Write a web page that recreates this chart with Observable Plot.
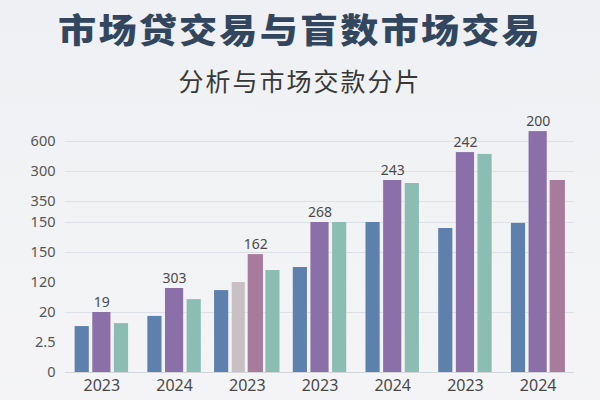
<!DOCTYPE html>
<html>
<head>
<meta charset="utf-8">
<script src="https://cdn.jsdelivr.net/npm/d3@7"></script>
<script src="https://cdn.jsdelivr.net/npm/@observablehq/plot@0.6"></script>
<style>
  html, body { margin: 0; padding: 0; }
  body { width: 600px; height: 400px; overflow: hidden;
         background: linear-gradient(180deg, #eef0f3 0%, #f2f3f5 60%, #f4f4f6 100%);
         font-family: "Noto Sans CJK SC", "Noto Sans", sans-serif; }
  #wrap { position: relative; width: 600px; height: 400px; }
  #title { position: absolute; left: 0; width: 600px; top: 10px; text-align: center;
           font-size: 34px; line-height: 38px; font-weight: 900; color: #32475f;
           letter-spacing: 2px; transform: scaleX(1.12); transform-origin: 50% 50%; }
  #subtitle { position: absolute; left: 0; width: 600px; top: 65px; text-align: center;
              font-size: 25px; line-height: 30px; font-weight: 400; color: #383838;
              letter-spacing: 2px; }
  #chart { position: absolute; left: 0; top: 110px; }
  #chart svg { overflow: visible; background: transparent; }
</style>
</head>
<body>
<div id="wrap">
  <div id="title">市场贷交易与盲数市场交易</div>
  <div id="subtitle">分析与市场交款分片</div>
  <div id="chart"></div>
</div>
<script>
// ---- data ----
const years = ["2023", "2024", "2023", "2023", "2024", "2023", "2024"];
const yTickValues = [0, 1, 2, 3, 4, 5, 5.7, 6.7, 7.7];
const yTickLabels = ["0", "2.5", "20", "120", "150", "150", "350", "300", "600"];
const gridValues = [2, 4, 5, 5.7, 6.7, 7.7];

const blueValues   = [1.53, 1.87, 2.73, 3.5, 5.0, 4.8, 4.97];
const purpleValues = [2.0, 2.8, null, 5.0, 6.4, 7.33, 8.03];
const grayValues   = [null, null, 3.0, null, null, null, null];
const pinkValues   = [null, null, 3.93, null, null, null, 6.4];
const tealValues   = [1.63, 2.43, 3.4, 5.0, 6.3, 7.27, null];

const barLabels = ["19", "303", "162", "268", "243", "242", "200"];
const labelSeries = ["purple", "purple", "pink", "purple", "purple", "purple", "purple"];

// ---- styles ----
const seriesOrder = ["blue", "purple", "gray", "pink", "teal"];
const seriesValues = {blue: blueValues, purple: purpleValues, gray: grayValues, pink: pinkValues, teal: tealValues};
const colors = {blue: "#5e80ad", purple: "#8b6fa9", gray: "#c9c0c3", pink: "#a87a9c", teal: "#8bbdb3"};
const widths = {blue: 0.195, purple: 0.25, gray: 0.18, pink: 0.21, teal: 0.195};

const rows = [];
years.forEach((yr, g) => {
  const present = seriesOrder.filter(s => seriesValues[s][g] != null);
  const n = present.length;
  const pitch = n === 4 ? 0.235 : 0.27;
  present.forEach((s, j) => {
    const xc = g + (j - (n - 1) / 2) * pitch;
    rows.push({g, series: s, value: seriesValues[s][g], x1: xc - widths[s] / 2, x2: xc + widths[s] / 2, xc,
               label: labelSeries[g] === s ? barLabels[g] : null});
  });
});
const labelRows = rows.filter(d => d.label != null);
const yLabelMap = new Map(yTickValues.map((v, i) => [v, yTickLabels[i]]));
const groupIdx = years.map((_, i) => i);

const chart = Plot.plot({
  width: 600,
  height: 290,
  marginLeft: 65,
  marginRight: 26,
  marginTop: 16,
  marginBottom: 28,
  style: {fontFamily: "'Noto Sans', 'DejaVu Sans', sans-serif", background: "transparent", overflow: "visible"},
  x: {domain: [-0.5, 6.5]},
  y: {domain: [0, 8.2]},
  marks: [
    Plot.ruleY(gridValues, {stroke: "#dde1e6", strokeWidth: 1}),
    Plot.rectY(rows, {x1: "x1", x2: "x2", y1: 0, y2: "value", fill: d => colors[d.series]}),
    Plot.ruleY([0], {stroke: "#d3d7dc", strokeWidth: 1.2}),
    Plot.text(labelRows, {x: "xc", y: "value", text: "label", dy: -6, lineAnchor: "bottom", fontSize: 14, fill: "#4a4a4a"}),
    Plot.axisY(yTickValues, {tickSize: 0, tickPadding: 10, tickFormat: d => yLabelMap.get(d), fontSize: 14.5, color: "#555", label: null}),
    Plot.axisX(groupIdx, {tickSize: 0, tickPadding: 7, tickFormat: i => years[i], fontSize: 16, color: "#484848", label: null})
  ]
});
document.getElementById("chart").appendChild(chart);
</script>
</body>
</html>
